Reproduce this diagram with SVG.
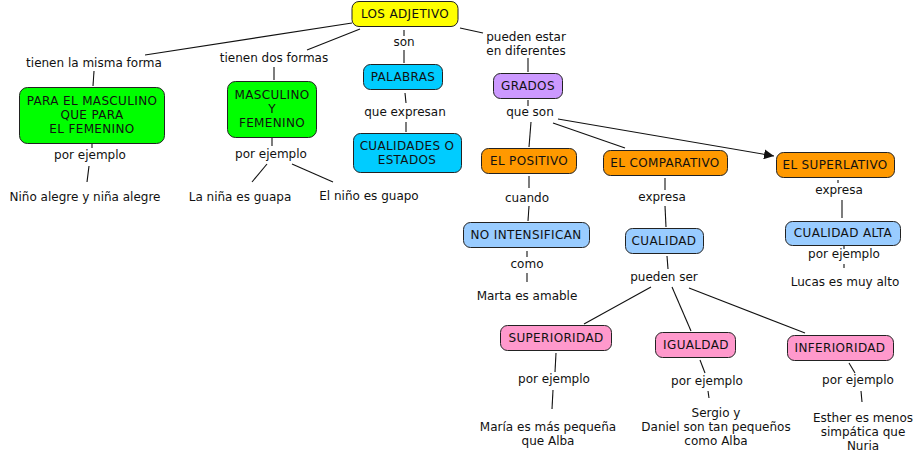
<svg xmlns="http://www.w3.org/2000/svg" width="923" height="460" viewBox="0 0 923 460">
<style>
text{font-family:"DejaVu Sans","Verdana",sans-serif;font-size:12px;fill:#111;text-anchor:middle}
.t{letter-spacing:0.35px}
.n{stroke:#222;stroke-width:1}
.y{fill:#ffff00}.g{fill:#00ff00}.c{fill:#00ccff}.p{fill:#cc99ff}.o{fill:#ff9900}.b{fill:#99ccff}.k{fill:#ff99cc}
#connectors line{stroke:#111;stroke-width:1.1;fill:none}
</style>
<defs>
<marker id="arr" viewBox="0 0 10 10" refX="10" refY="5" markerWidth="10" markerHeight="10" markerUnits="userSpaceOnUse" orient="auto">
<path d="M0,0 L10,5 L0,10 z" fill="#111"/>
</marker>
</defs>
<rect width="923" height="460" fill="#fff"/>
<g id="connectors">
<line x1="352" y1="23" x2="145" y2="55"/>
<line x1="360" y1="29" x2="307" y2="50"/>
<line x1="404" y1="30" x2="404" y2="36"/>
<line x1="404" y1="50" x2="404" y2="63"/>
<line x1="460" y1="28" x2="483" y2="33"/>
<line x1="528" y1="58" x2="528" y2="72"/>
<line x1="528" y1="100" x2="528" y2="106"/>
<line x1="94" y1="71" x2="93" y2="86"/>
<line x1="274" y1="67" x2="274" y2="80"/>
<line x1="405" y1="93" x2="406" y2="103"/>
<line x1="406" y1="122" x2="406" y2="132"/>
<line x1="92" y1="144" x2="92" y2="148"/>
<line x1="89" y1="166" x2="87" y2="182"/>
<line x1="272" y1="138" x2="272" y2="146"/>
<line x1="267" y1="164" x2="252" y2="182"/>
<line x1="292" y1="164" x2="333" y2="182"/>
<line x1="531" y1="122" x2="529" y2="147"/>
<line x1="553" y1="123" x2="625" y2="148"/>
<line x1="558" y1="119" x2="774" y2="156" marker-end="url(#arr)"/>
<line x1="529" y1="176" x2="529" y2="188"/>
<line x1="529" y1="206" x2="528" y2="221"/>
<line x1="665" y1="178" x2="665" y2="190"/>
<line x1="665" y1="206" x2="666" y2="227"/>
<line x1="838" y1="180" x2="838" y2="183"/>
<line x1="842" y1="200" x2="842" y2="218"/>
<line x1="527" y1="251" x2="527" y2="257"/>
<line x1="527" y1="273" x2="527" y2="282"/>
<line x1="667" y1="256" x2="668" y2="269"/>
<line x1="651" y1="287" x2="584" y2="324"/>
<line x1="672" y1="287" x2="691" y2="331"/>
<line x1="689" y1="288" x2="805" y2="333"/>
<line x1="844" y1="246" x2="844" y2="249"/>
<line x1="844" y1="264" x2="844" y2="268"/>
<line x1="556" y1="353" x2="555" y2="372"/>
<line x1="553" y1="390" x2="552" y2="409"/>
<line x1="700" y1="360" x2="705" y2="373"/>
<line x1="708" y1="391" x2="709" y2="398"/>
<line x1="849" y1="363" x2="855" y2="373"/>
<line x1="861" y1="391" x2="862" y2="402"/>
</g>
<g id="los-adjetivo"><rect class="n y" x="352" y="1.5" width="106" height="25" rx="7"/><text class="t" x="405" y="18">LOS ADJETIVO</text></g>
<g id="lbl-misma"><text x="94" y="67">tienen la misma forma</text></g>
<g id="lbl-dos"><text x="274" y="62">tienen dos formas</text></g>
<g id="lbl-son"><text x="404" y="46">son</text></g>
<g id="lbl-pueden"><text x="526" y="41">pueden estar</text><text x="526" y="55">en diferentes</text></g>
<g id="para-masculino"><rect class="n g" x="19.5" y="87.5" width="145" height="56" rx="8"/><text class="t" x="92" y="105">PARA EL MASCULINO</text><text class="t" x="92" y="119">QUE PARA</text><text class="t" x="92" y="133">EL FEMENINO</text></g>
<g id="masc-fem"><rect class="n g" x="227.5" y="81.5" width="89" height="56" rx="8"/><text class="t" x="272" y="99">MASCULINO</text><text class="t" x="272" y="113">Y</text><text class="t" x="272" y="127">FEMENINO</text></g>
<g id="palabras"><rect class="n c" x="363.5" y="64.5" width="79" height="25" rx="7"/><text class="t" x="403" y="81">PALABRAS</text></g>
<g id="lbl-expresan"><text x="405" y="116">que expresan</text></g>
<g id="cualidades"><rect class="n c" x="353.5" y="133.5" width="108" height="39" rx="7"/><text class="t" x="407" y="150">CUALIDADES O</text><text class="t" x="407" y="164">ESTADOS</text></g>
<g id="grados"><rect class="n p" x="493.5" y="73.5" width="69" height="25" rx="7"/><text class="t" x="528" y="90">GRADOS</text></g>
<g id="lbl-queson"><text x="530" y="116">que son</text></g>
<g id="lbl-ej1"><text x="90" y="159">por ejemplo</text></g>
<g id="ej-nino-alegre"><text x="85" y="201">Niño alegre y niña alegre</text></g>
<g id="lbl-ej2"><text x="271" y="158">por ejemplo</text></g>
<g id="ej-nina-guapa"><text x="240" y="201">La niña es guapa</text></g>
<g id="ej-nino-guapo"><text x="369" y="200">El niño es guapo</text></g>
<g id="positivo"><rect class="n o" x="481.5" y="148.5" width="95" height="25" rx="7"/><text class="t" x="529" y="165">EL POSITIVO</text></g>
<g id="comparativo"><rect class="n o" x="603.5" y="150.5" width="124" height="25" rx="7"/><text class="t" x="665" y="167">EL COMPARATIVO</text></g>
<g id="superlativo"><rect class="n o" x="776.5" y="152.5" width="118" height="25" rx="7"/><text class="t" x="835" y="169">EL SUPERLATIVO</text></g>
<g id="lbl-cuando"><text x="527" y="202">cuando</text></g>
<g id="lbl-expresa1"><text x="662" y="201">expresa</text></g>
<g id="lbl-expresa2"><text x="839" y="194">expresa</text></g>
<g id="no-intensifican"><rect class="n b" x="463.5" y="222.5" width="126" height="25" rx="7"/><text class="t" x="526" y="239">NO INTENSIFICAN</text></g>
<g id="cualidad"><rect class="n b" x="625.5" y="228.5" width="78" height="25" rx="7"/><text class="t" x="664" y="245">CUALIDAD</text></g>
<g id="cualidad-alta"><rect class="n b" x="785.5" y="221.5" width="115" height="24" rx="7"/><text class="t" x="843" y="237">CUALIDAD ALTA</text></g>
<g id="lbl-como"><text x="527" y="268">como</text></g>
<g id="ej-marta"><text x="527" y="300">Marta es amable</text></g>
<g id="lbl-puedenser"><text x="664" y="281">pueden ser</text></g>
<g id="lbl-ej3"><text x="844" y="258">por ejemplo</text></g>
<g id="ej-lucas"><text x="845" y="286">Lucas es muy alto</text></g>
<g id="superioridad"><rect class="n k" x="500.5" y="325.5" width="111" height="25" rx="7"/><text class="t" x="556" y="342">SUPERIORIDAD</text></g>
<g id="igualdad"><rect class="n k" x="655.5" y="332.5" width="80" height="25" rx="7"/><text class="t" x="696" y="349">IGUALDAD</text></g>
<g id="inferioridad"><rect class="n k" x="787.5" y="335.5" width="106" height="25" rx="7"/><text class="t" x="840" y="352">INFERIORIDAD</text></g>
<g id="lbl-ej4"><text x="554" y="383">por ejemplo</text></g>
<g id="ej-maria"><text x="548" y="431">María es más pequeña</text><text x="548" y="445">que Alba</text></g>
<g id="lbl-ej5"><text x="707" y="385">por ejemplo</text></g>
<g id="ej-sergio"><text x="716" y="417">Sergio y</text><text x="716" y="431">Daniel son tan pequeños</text><text x="716" y="445">como Alba</text></g>
<g id="lbl-ej6"><text x="858" y="384">por ejemplo</text></g>
<g id="ej-esther"><text x="863" y="422">Esther es menos</text><text x="863" y="436">simpática que</text><text x="863" y="450">Nuria</text></g>
</svg>
